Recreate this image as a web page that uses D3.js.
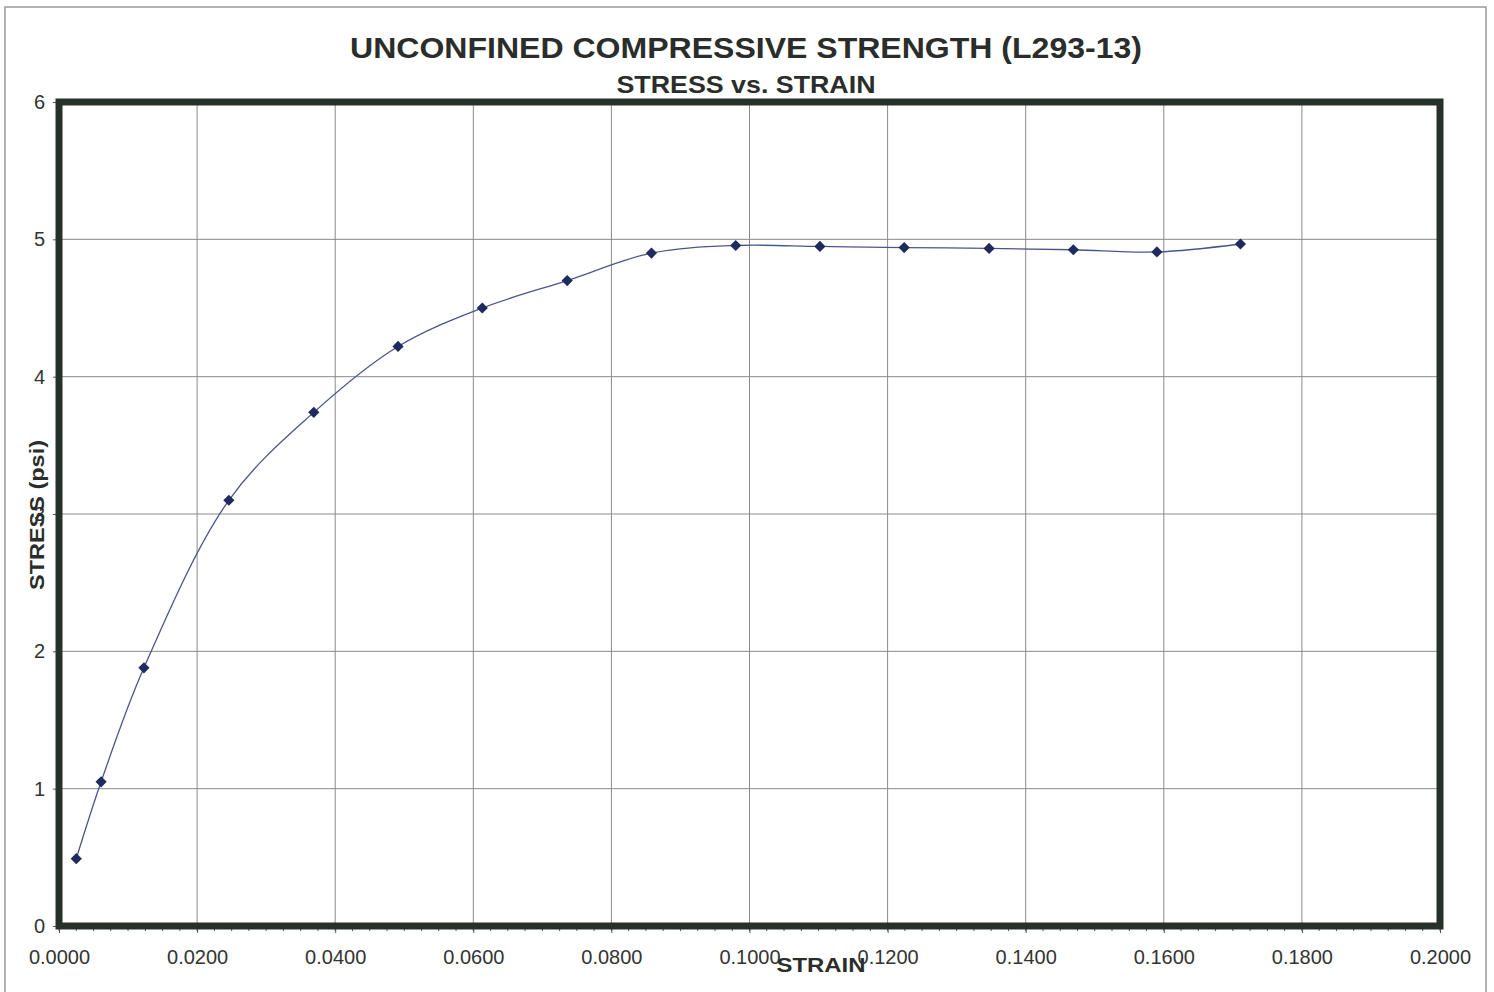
<!DOCTYPE html>
<html>
<head>
<meta charset="utf-8">
<script src="https://cdn.jsdelivr.net/npm/d3@7"></script>
<style>
  html, body { margin: 0; padding: 0; background: #fff; }
  svg { display: block; }
</style>
</head>
<body>
<svg id="chart" width="1494" height="992"></svg>
<script>
// ---- data ----
const strain = [0.0025, 0.0061, 0.0123, 0.0246, 0.0369, 0.0491, 0.0613, 0.0736, 0.0858, 0.0980, 0.1102, 0.1224, 0.1347, 0.1469, 0.1590, 0.1711];
const stress = [0.49, 1.05, 1.88, 3.10, 3.74, 4.22, 4.50, 4.70, 4.90, 4.955, 4.948, 4.94, 4.934, 4.924, 4.908, 4.966];
const xTicks = [0, 0.02, 0.04, 0.06, 0.08, 0.10, 0.12, 0.14, 0.16, 0.18, 0.20];
const yTicks = [0, 1, 2, 3, 4, 5, 6];
const titleText = "UNCONFINED COMPRESSIVE STRENGTH (L293-13)";
const subtitleText = "STRESS vs. STRAIN";
const xLabel = "STRAIN";
const yLabel = "STRESS (psi)";

const svg = d3.select("#chart");
const W = 1494, H = 992;

const x = d3.scaleLinear().domain([0, 0.2]).range([59, 1440]);
const y = d3.scaleLinear().domain([0, 6]).range([926, 102]);

// page frame
svg.append("rect").attr("x", 0).attr("y", 0).attr("width", W).attr("height", H).attr("fill", "#fff");
svg.append("path")
  .attr("d", `M5,${H} L5,7 L1486,7 L1486,${H}`)
  .attr("fill", "none").attr("stroke", "#9a9a9a").attr("stroke-width", 1.5);

// gridlines
svg.append("g").selectAll("line").data(xTicks.slice(1, -1)).join("line")
  .attr("x1", d => x(d)).attr("x2", d => x(d))
  .attr("y1", y(6)).attr("y2", y(0))
  .attr("stroke", "#8a8a8a").attr("stroke-width", 1);
svg.append("g").selectAll("line").data(yTicks.slice(1, -1)).join("line")
  .attr("x1", x(0)).attr("x2", x(0.2))
  .attr("y1", d => y(d)).attr("y2", d => y(d))
  .attr("stroke", "#8a8a8a").attr("stroke-width", 1);

// minor x ticks
const minor = d3.range(0, 0.2 + 1e-9, 0.0025);
svg.append("g").selectAll("line").data(minor).join("line")
  .attr("x1", d => x(d)).attr("x2", d => x(d))
  .attr("y1", y(0)).attr("y2", y(0) + 5)
  .attr("stroke", "#555").attr("stroke-width", 1);

// axes (tick labels)
const xAxis = d3.axisBottom(x).tickValues(xTicks).tickFormat(d3.format(".4f")).tickSize(7).tickPadding(17);
const gx = svg.append("g").attr("transform", `translate(0,${y(0)})`).call(xAxis);
gx.select(".domain").remove();
gx.selectAll("text").attr("font-family", "Liberation Sans, Arial, sans-serif").attr("font-size", 20).attr("fill", "#333");
gx.selectAll("line").attr("stroke", "#555");

const yAxis = d3.axisLeft(y).tickValues(yTicks).tickFormat(d3.format("d")).tickSize(6).tickPadding(8);
const gy = svg.append("g").attr("transform", `translate(${x(0)},0)`).call(yAxis);
gy.select(".domain").remove();
gy.selectAll("text").attr("font-family", "Liberation Sans, Arial, sans-serif").attr("font-size", 20).attr("fill", "#333");
gy.selectAll("line").attr("stroke", "#555");

// thick plot frame
svg.append("rect")
  .attr("x", x(0)).attr("y", y(6))
  .attr("width", x(0.2) - x(0)).attr("height", y(0) - y(6))
  .attr("fill", "none").attr("stroke", "#263229").attr("stroke-width", 7);

// data line
const pts = strain.map((s, i) => [s, stress[i]]);
const line = d3.line().x(d => x(d[0])).y(d => y(d[1])).curve(d3.curveCatmullRom.alpha(0.5));
svg.append("path").datum(pts)
  .attr("d", line)
  .attr("fill", "none").attr("stroke", "#4b5688").attr("stroke-width", 1.3);

// diamond markers
const diamond = d3.symbol().type(d3.symbolDiamond2).size(80);
svg.append("g").selectAll("path").data(pts).join("path")
  .attr("transform", d => `translate(${x(d[0])},${y(d[1])})`)
  .attr("d", diamond)
  .attr("fill", "#1f2b5e");

// titles
svg.append("text").text(titleText)
  .attr("x", 746).attr("y", 58).attr("text-anchor", "middle")
  .attr("font-family", "Liberation Sans, Arial, sans-serif").attr("font-weight", "bold")
  .attr("font-size", 29).attr("fill", "#2a2d2a")
  .attr("textLength", 792).attr("lengthAdjust", "spacingAndGlyphs");
svg.append("text").text(subtitleText)
  .attr("x", 746).attr("y", 93).attr("text-anchor", "middle")
  .attr("font-family", "Liberation Sans, Arial, sans-serif").attr("font-weight", "bold")
  .attr("font-size", 24).attr("fill", "#2a2d2a")
  .attr("textLength", 259).attr("lengthAdjust", "spacingAndGlyphs");

svg.append("text").text(xLabel)
  .attr("x", 821).attr("y", 972).attr("text-anchor", "middle")
  .attr("font-family", "Liberation Sans, Arial, sans-serif").attr("font-weight", "bold")
  .attr("font-size", 21).attr("fill", "#2a2d2a")
  .attr("textLength", 89).attr("lengthAdjust", "spacingAndGlyphs");

svg.append("text").text(yLabel)
  .attr("transform", "translate(44,515) rotate(-90)").attr("text-anchor", "middle")
  .attr("font-family", "Liberation Sans, Arial, sans-serif").attr("font-weight", "bold")
  .attr("font-size", 21).attr("fill", "#2a2d2a")
  .attr("textLength", 150).attr("lengthAdjust", "spacingAndGlyphs");
</script>
</body>
</html>
